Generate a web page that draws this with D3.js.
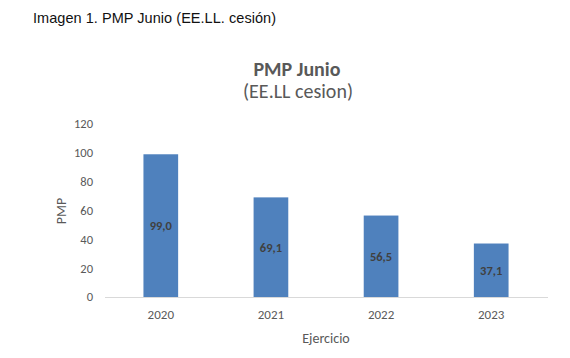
<!DOCTYPE html>
<html><head><meta charset="utf-8">
<script src="https://cdn.jsdelivr.net/npm/d3@7"></script>
<style>body{margin:0;background:#fff}svg{display:block}</style>
</head><body>
<svg id="c" width="570" height="358"></svg>
<script>
const categories = ["2020","2021","2022","2023"];
const values = [99.0, 69.1, 56.5, 37.1];
const yTicks = [0,20,40,60,80,100,120];
const caption = "Imagen 1. PMP Junio (EE.LL. cesión)";
const title = "PMP Junio";
const subtitle = "(EE.LL cesion)";
const yLabel = "PMP";
const xLabel = "Ejercicio";

const svg = d3.select("#c");
const font = "Carlito, 'Open Sans', 'Noto Sans', sans-serif";
const grey = "#595959";

const x = d3.scaleBand().domain(categories).range([106, 546]).paddingInner(0.685).paddingOuter(0.34);
const y = d3.scaleLinear().domain([0,120]).range([297, 124]);

svg.append("text").attr("x", 33).attr("y", 23).attr("font-family", "'Liberation Sans', Arial, sans-serif")
  .attr("font-size", 14.5).attr("fill", "#111").attr("textLength", 243).text(caption);

svg.append("text").attr("x", 297).attr("y", 76).attr("text-anchor", "middle").attr("font-family", font)
  .attr("font-size", 20).attr("font-weight", "bold").attr("fill", grey).text(title);
svg.append("text").attr("x", 298).attr("y", 98).attr("text-anchor", "middle").attr("font-family", font)
  .attr("font-size", 20).attr("fill", grey).text(subtitle);

// y tick labels
svg.append("g").selectAll("text").data(yTicks).join("text")
  .attr("x", 93).attr("y", d => y(d)).attr("dy", "0.35em").attr("text-anchor", "end")
  .attr("font-family", font).attr("font-size", 12.5).attr("fill", grey).text(d => d);

// baseline
svg.append("line").attr("x1", 105).attr("x2", 548).attr("y1", y(0)+0.5).attr("y2", y(0)+0.5)
  .attr("stroke", "#d9d9d9").attr("stroke-width", 1);

// bars
svg.append("g").selectAll("rect").data(values).join("rect")
  .attr("x", (d,i) => x(categories[i])).attr("width", x.bandwidth())
  .attr("y", d => y(d)).attr("height", d => y(0) - y(d)).attr("fill", "#4f81bd");

// value labels
svg.append("g").selectAll("text").data(values).join("text")
  .attr("x", (d,i) => x(categories[i]) + x.bandwidth()/2).attr("y", d => (y(d)+y(0))/2)
  .attr("dy", "0.35em").attr("text-anchor", "middle").attr("font-family", font)
  .attr("font-size", 12.5).attr("font-weight", "bold").attr("fill", "#404040")
  .text(d => d.toFixed(1).replace(".", ","));

// x tick labels
svg.append("g").selectAll("text").data(categories).join("text")
  .attr("x", d => x(d) + x.bandwidth()/2).attr("y", 319).attr("text-anchor", "middle")
  .attr("font-family", font).attr("font-size", 13).attr("fill", grey).text(d => d);

svg.append("text").attr("x", 326).attr("y", 343).attr("text-anchor", "middle").attr("font-family", font)
  .attr("font-size", 14).attr("fill", grey).text(xLabel);

svg.append("text").attr("transform", "translate(66,211) rotate(-90)").attr("text-anchor", "middle")
  .attr("font-family", font).attr("font-size", 14).attr("fill", grey).text(yLabel);
</script>
</body></html>
